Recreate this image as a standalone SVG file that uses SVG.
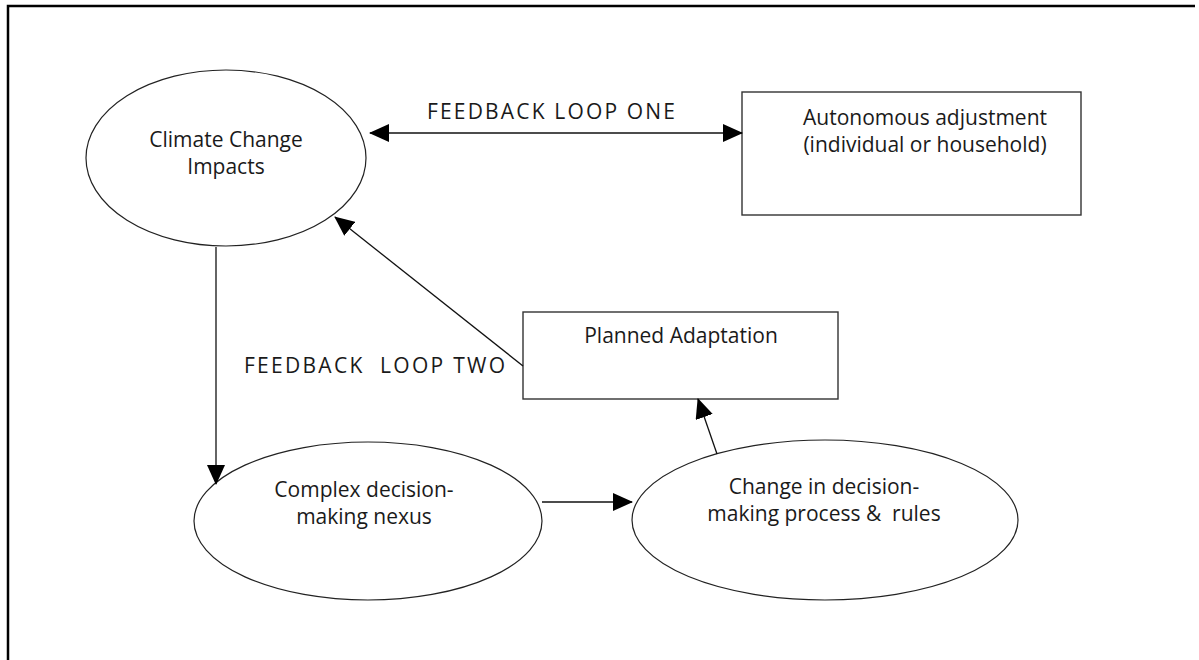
<svg xmlns="http://www.w3.org/2000/svg" width="1199" height="660" viewBox="0 0 1199 660">
<defs>
<style>
.shape{fill:#fff;stroke:#222;stroke-width:1.2}
.box{fill:#fff;stroke:#333;stroke-width:1.4}
.conn{stroke:#111;stroke-width:1.3;fill:none}
.t{font-family:"Open Sans","DejaVu Sans",sans-serif;font-size:21px;fill:#1a1a1a;text-anchor:middle}
.lbl{font-family:"Open Sans","DejaVu Sans",sans-serif;font-size:21px;fill:#1a1a1a}
</style>
<marker id="ah" markerUnits="userSpaceOnUse" markerWidth="20" markerHeight="18" refX="19" refY="9" orient="auto-start-reverse">
<path d="M0,0 L20,9 L0,18 z" fill="#000"/>
</marker>
</defs>
<rect width="1199" height="660" fill="#fff"/>
<path d="M8,660 V6 H1195" fill="none" stroke="#000" stroke-width="2.5"/>

<g id="climate">
<ellipse class="shape" cx="226" cy="158" rx="140" ry="88"/>
<text class="t" x="226" y="147">Climate Change</text>
<text class="t" x="226" y="174">Impacts</text>
</g>
<g id="autonomous">
<rect class="box" x="742" y="92" width="339" height="123"/>
<text class="t" x="925" y="125">Autonomous adjustment</text>
<text class="t" x="925" y="152">(individual or household)</text>
</g>
<g id="planned">
<rect class="box" x="523" y="312" width="315" height="87"/>
<text class="t" x="681" y="343">Planned Adaptation</text>
</g>
<g id="complex">
<ellipse class="shape" cx="368" cy="521" rx="174" ry="79"/>
<text class="t" x="364" y="497">Complex decision-</text>
<text class="t" x="364" y="524">making nexus</text>
</g>
<g id="change">
<ellipse class="shape" cx="825" cy="520" rx="193" ry="80"/>
<text class="t" x="824" y="494">Change in decision-</text>
<text class="t" x="824" y="521" xml:space="preserve">making process &amp;  rules</text>
</g>

<g id="connectors">
<line class="conn" x1="370" y1="133" x2="742" y2="133" marker-start="url(#ah)" marker-end="url(#ah)"/>
<line class="conn" x1="523" y1="366" x2="335" y2="217" marker-end="url(#ah)"/>
<line class="conn" x1="216" y1="247" x2="216" y2="484" marker-end="url(#ah)"/>
<line class="conn" x1="542" y1="502" x2="632" y2="502" marker-end="url(#ah)"/>
<line class="conn" x1="717" y1="454" x2="698" y2="399" marker-end="url(#ah)"/>
</g>

<g id="labels">
<text class="lbl" x="427" y="119" textLength="248" lengthAdjust="spacing">FEEDBACK LOOP ONE</text>
<text class="lbl" x="244" y="373" textLength="261" lengthAdjust="spacing" xml:space="preserve">FEEDBACK  LOOP TWO</text>
</g>
</svg>
